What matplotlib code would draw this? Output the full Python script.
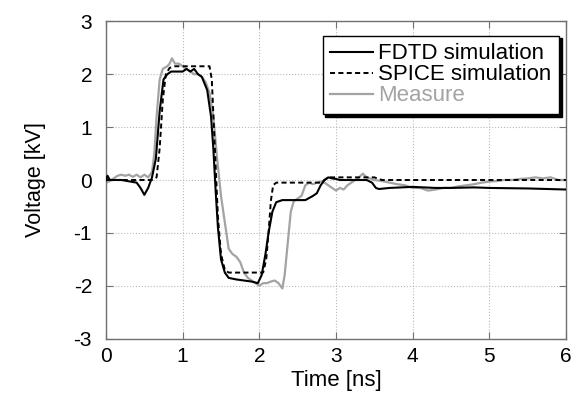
import matplotlib

matplotlib.use("Agg")
import matplotlib.pyplot as plt

plt.rcParams["font.family"] = ["Liberation Sans", "DejaVu Sans"]
plt.rcParams["axes.unicode_minus"] = False

# FDTD simulation (black solid)
fdtd_t = [0.0, 0.02, 0.05, 0.2, 0.4, 0.45, 0.5, 0.55, 0.6, 0.65, 0.7, 0.75, 0.8, 0.85,
          0.95, 1.0, 1.05, 1.1, 1.15, 1.2, 1.25, 1.32, 1.37, 1.4, 1.43, 1.46, 1.5, 1.55,
          1.6, 1.7, 1.8, 1.9, 1.98, 2.03, 2.08, 2.12, 2.17, 2.22, 2.3, 2.5, 2.6, 2.7,
          2.75, 2.8, 2.85, 2.9, 2.95, 3.0, 3.05, 3.2, 3.4, 3.47, 3.52, 3.56, 3.7, 4.0,
          4.3, 4.5, 4.8, 5.0, 5.5, 6.0]
fdtd_v = [0.0, 0.08, 0.0, 0.0, -0.05, -0.15, -0.28, -0.15, 0.05, 0.4, 1.3, 1.9, 2.0,
          2.05, 2.05, 2.05, 2.1, 2.05, 2.1, 2.0, 1.95, 1.7, 1.2, 0.6, -0.2, -0.9, -1.5,
          -1.75, -1.85, -1.88, -1.9, -1.92, -1.95, -1.8, -1.4, -1.0, -0.6, -0.42, -0.38,
          -0.38, -0.38, -0.3, -0.25, -0.1, 0.0, 0.05, 0.03, 0.02, 0.0, 0.0, 0.0, -0.05,
          -0.15, -0.17, -0.15, -0.13, -0.15, -0.15, -0.14, -0.15, -0.16, -0.18]

# SPICE simulation (black dashed)
spice_t = [0.0, 0.6, 0.66, 0.7, 0.74, 0.78, 0.83, 0.9, 1.3, 1.35, 1.38, 1.42, 1.46,
           1.5, 1.55, 1.6, 2.05, 2.09, 2.12, 2.15, 2.18, 2.22, 2.8, 2.85, 2.9, 3.5,
           3.6, 6.0]
spice_v = [0.0, 0.0, 0.05, 0.6, 1.5, 2.0, 2.12, 2.15, 2.15, 2.15, 1.9, 0.6, -0.7,
           -1.4, -1.7, -1.75, -1.75, -1.5, -1.0, -0.4, -0.1, -0.05, -0.05, 0.0, 0.05,
           0.05, 0.0, 0.0]

# Measure (gray)
meas_t = [0.0, 0.05, 0.1, 0.15, 0.2, 0.25, 0.3, 0.35, 0.4, 0.45, 0.5, 0.55, 0.6, 0.63,
          0.66, 0.7, 0.74, 0.8, 0.83, 0.86, 0.9, 0.95, 1.0, 1.05, 1.1, 1.15, 1.2, 1.25,
          1.3, 1.35, 1.4, 1.45, 1.5, 1.55, 1.6, 1.65, 1.7, 1.75, 1.8, 1.85, 1.9, 1.95,
          2.0, 2.05, 2.1, 2.15, 2.2, 2.25, 2.3, 2.33, 2.37, 2.41, 2.45, 2.5, 2.55, 2.6,
          2.65, 2.7, 2.75, 2.8, 2.85, 2.9, 2.95, 3.0, 3.05, 3.1, 3.15, 3.2, 3.25, 3.3,
          3.35, 3.4, 3.5, 3.6, 3.7, 3.8, 3.9, 4.0, 4.1, 4.2, 4.3, 4.4, 4.5, 4.6, 4.7,
          4.8, 4.9, 5.0, 5.1, 5.2, 5.3, 5.4, 5.5, 5.6, 5.7, 5.8, 5.9, 6.0]
meas_v = [-0.05, -0.02, 0.03, 0.08, 0.1, 0.08, 0.1, 0.06, 0.1, 0.05, 0.1, 0.05, 0.15,
          0.5, 1.2, 1.9, 2.1, 2.15, 2.2, 2.3, 2.2, 2.2, 2.15, 2.1, 2.05, 2.0, 2.0, 1.95,
          1.85, 1.65, 1.2, 0.4, -0.3, -0.8, -1.3, -1.4, -1.45, -1.55, -1.75, -1.85,
          -1.9, -1.95, -2.0, -1.95, -1.95, -1.92, -1.9, -1.95, -2.05, -1.8, -1.2, -0.6,
          -0.4, -0.35, -0.3, -0.1, -0.05, -0.08, -0.05, -0.03, -0.05, -0.1, -0.15,
          -0.2, -0.15, -0.18, -0.1, -0.05, -0.0, 0.05, 0.12, 0.05, 0.0, -0.02, -0.05,
          -0.08, -0.1, -0.15, -0.15, -0.2, -0.18, -0.15, -0.15, -0.12, -0.1, -0.08,
          -0.05, -0.03, -0.02, 0.0, 0.0, 0.02, 0.03, 0.05, 0.03, 0.05, 0.0, 0.0]

GRAY_LINE = "#a3a3a3"
SPINE = "#707070"

fig = plt.figure(figsize=(5.74, 4.01), dpi=100)
ax = fig.add_axes([106 / 574, 62.3 / 401, 460 / 574, 317.4 / 401])

ax.plot(fdtd_t, fdtd_v, color="black", lw=1.5, label="FDTD simulation", zorder=3)
ax.plot(spice_t, spice_v, color="black", lw=1.4, ls=(0, (2.6, 1.7)),
        label="SPICE simulation", zorder=3)
ax.plot(meas_t, meas_v, color=GRAY_LINE, lw=1.6, label="Measure", zorder=2)

ax.set_xlim(0, 6)
ax.set_ylim(-3, 3)
ax.set_xticks(range(0, 7))
ax.set_yticks(range(-3, 4))
ax.grid(True, ls=":", color="#b8b8b8", lw=0.8)
ax.tick_params(direction="in", length=5, labelsize=15, top=True, right=True,
               color=SPINE)
ax.tick_params(axis="x", pad=6)
ax.tick_params(axis="y", pad=10)
for sp in ax.spines.values():
    sp.set_color(SPINE)
    sp.set_linewidth(1.0)
ax.set_xlabel("Time [ns]", fontsize=16, labelpad=3)
ax.set_ylabel("Voltage [kV]", fontsize=15.5, labelpad=20)

leg = ax.legend(loc="upper right", bbox_to_anchor=(0.985, 0.955), fontsize=16,
                fancybox=False, shadow={"color": "black", "alpha": 1.0},
                framealpha=1, edgecolor="black", borderaxespad=0,
                handlelength=1.9, handletextpad=0.25, borderpad=0.35,
                labelspacing=0.0)
leg.get_frame().set_linewidth(1.0)
leg.get_texts()[2].set_color(GRAY_LINE)

fig.savefig("out.png", dpi=100)
